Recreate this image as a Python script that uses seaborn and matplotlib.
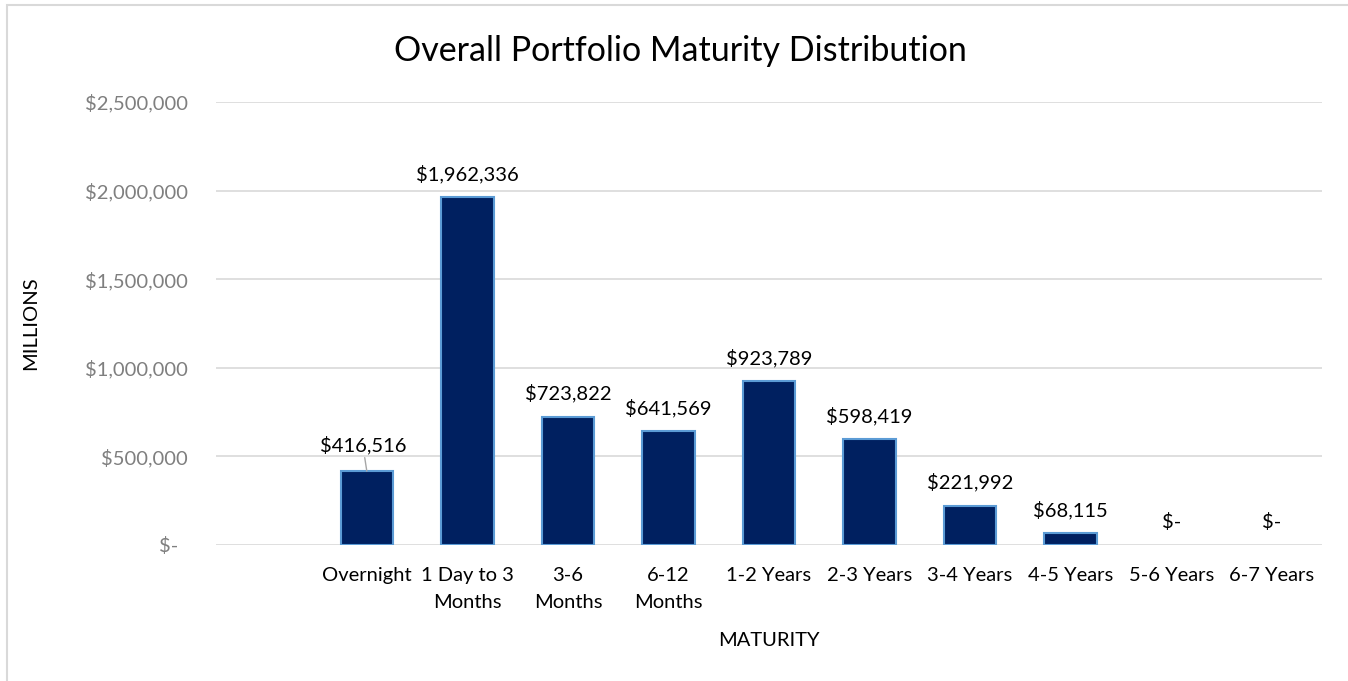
import matplotlib
matplotlib.use("Agg")
import matplotlib.pyplot as plt
import seaborn as sns
import pandas as pd
from matplotlib.patches import Rectangle

categories = ["Overnight", "1 Day to 3\nMonths", "3-6\nMonths", "6-12\nMonths",
              "1-2 Years", "2-3 Years", "3-4 Years", "4-5 Years", "5-6 Years", "6-7 Years"]
values = [416516, 1962336, 723822, 641569, 923789, 598419, 221992, 68115, 0, 0]
yticks = [0, 500000, 1000000, 1500000, 2000000, 2500000]
ytick_labels = ["$-  ", "$500,000", "$1,000,000", "$1,500,000", "$2,000,000", "$2,500,000"]

sns.set_theme(style="white")
plt.rcParams['font.family'] = ['Lato', 'DejaVu Sans']

FS = 14.5
fig = plt.figure(figsize=(13.48, 6.81), dpi=100)
ax = fig.add_axes([216/1348, 1-545/681, (1322-216)/1348, (545-102)/681])

df = pd.DataFrame({"cat": categories, "val": values})
sns.barplot(data=df, x="cat", y="val", color="#002060", edgecolor="#5B9BD5",
            linewidth=1.5, width=0.52, saturation=1, ax=ax, zorder=3)
for p, v in zip(ax.patches, values):
    if v == 0:
        p.set_linewidth(0)

ax.set_xlim(-1.5, len(categories) - 0.5)
ax.set_ylim(0, 2500000)
ax.set_yticks(yticks)
ax.set_yticklabels(ytick_labels, color="#7F7F7F", fontsize=FS)
ax.tick_params(axis="y", length=0, pad=20)
ax.tick_params(axis="x", length=0, pad=16, labelsize=FS, labelcolor="black")
for lbl in ax.get_xticklabels():
    lbl.set_linespacing(1.7)
ax.yaxis.grid(True, color="#D9D9D9", linewidth=1.2, zorder=0)
ax.xaxis.grid(False)
for s in ax.spines.values():
    s.set_visible(False)
ax.set_axisbelow(True)

ax.set_xlabel("MATURITY", fontsize=FS, color="black", labelpad=15)
ax.set_ylabel("MILLIONS", fontsize=FS, color="black")
ax.yaxis.set_label_coords(-(216-39)/1106, 0.5)

for i, v in enumerate(values):
    txt = "$-" if v == 0 else f"${v:,.0f}"
    if i == 0:
        ax.annotate(txt, xy=(i, v), xytext=(i - 0.04, v + 95000),
                    ha="center", va="bottom", fontsize=FS, color="black",
                    arrowprops=dict(arrowstyle="-", color="#A6A6A6", lw=1,
                                    shrinkA=0, shrinkB=0),
                    annotation_clip=False)
    else:
        ax.annotate(txt, xy=(i, v), xytext=(0, 10), textcoords="offset points",
                    ha="center", va="bottom", fontsize=FS, color="black")

fig.text(680/1348, 1-51/681, "Overall Portfolio Maturity Distribution",
         ha="center", va="center", fontsize=24.5, color="black")

fig.patches.append(Rectangle((7/1348, -0.1), 1.2, 1-5/681+0.1, transform=fig.transFigure,
                             fill=False, edgecolor="#D9D9D9", linewidth=1.5, zorder=0))

fig.savefig("out.png", dpi=100)
